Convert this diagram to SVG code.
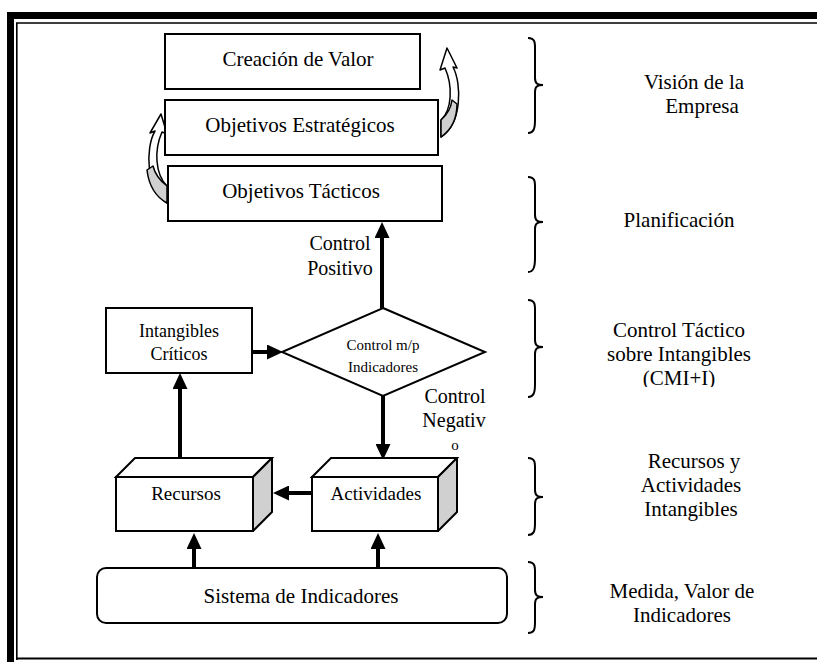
<svg xmlns="http://www.w3.org/2000/svg" width="817" height="662" viewBox="0 0 817 662">
<style>
.t{font-family:"Liberation Serif","Times New Roman",serif;fill:#000;text-anchor:middle}
.b{fill:#fff;stroke:#000;stroke-width:2}
.g{fill:#d0d0d0;stroke:#000;stroke-width:2;stroke-linejoin:round}
.c{stroke:#000;stroke-width:4;fill:none}
.ca{fill:#fff;stroke:#000;stroke-width:1.5;stroke-linejoin:round}
.br{fill:none;stroke:#000;stroke-width:2}
</style>
<defs>
<marker id="ah" markerUnits="userSpaceOnUse" viewBox="0 0 16 15" markerWidth="16" markerHeight="15" refX="2" refY="7.5" orient="auto">
<path d="M0,0 L16,7.5 L0,15 Z" fill="#000"/>
</marker>
<clipPath id="clipCMI"><rect x="560" y="300" width="240" height="87"/></clipPath>
</defs>
<rect width="817" height="662" fill="#fff"/>
<g id="frame">
<path d="M10.5,662 V15.5 H817" fill="none" stroke="#000" stroke-width="7"/>
<path d="M16.8,660 V23 H817" fill="none" stroke="#000" stroke-width="1.6"/>
<path d="M16,658.5 H817" fill="none" stroke="#000" stroke-width="2"/>
</g>
<g id="connectors">
<line class="c" x1="382" y1="308" x2="382" y2="236" marker-end="url(#ah)"/>
<line class="c" x1="252" y1="352" x2="269" y2="352" marker-end="url(#ah)"/>
<line class="c" x1="383" y1="396" x2="383" y2="446" marker-end="url(#ah)"/>
<line class="c" x1="312" y1="493" x2="287" y2="493" marker-end="url(#ah)"/>
<line class="c" x1="180" y1="458" x2="180" y2="387" marker-end="url(#ah)"/>
<line class="c" x1="194" y1="568" x2="194" y2="547" marker-end="url(#ah)"/>
<line class="c" x1="378" y1="568" x2="378" y2="547" marker-end="url(#ah)"/>
<g id="curved-right">
<path class="ca" d="M441,137 C462,124 462,84 453,67 L457,68 L447,48 L440,70 L445,68 C453,86 452,110 441,120 Z"/>
<path class="g" d="M441,120 C448,114 451,108 452,100 L457,104 C457,119 451,130 441,137 Z" style="stroke-width:1.5"/>
</g>
<g id="curved-left">
<path class="ca" d="M167,203 C146,190 145,148 155,131 L150,133 L161,114 L167,134 L162,132 C154,150 155,174 167,186 Z"/>
<path class="g" d="M167,186 C159,180 155,174 153,166 L147,170 C149,187 156,197 167,203 Z" style="stroke-width:1.5"/>
</g>
</g>
<g id="creacion-valor">
<rect class="b" x="165" y="34" width="255" height="55"/>
<text class="t" x="298" y="66" font-size="21">Creación de Valor</text>
</g>
<g id="objetivos-estrategicos">
<rect class="b" x="165" y="100" width="273" height="55"/>
<text class="t" x="300" y="132" font-size="21">Objetivos Estratégicos</text>
</g>
<g id="objetivos-tacticos">
<rect class="b" x="168" y="166" width="274" height="55"/>
<text class="t" x="301" y="198" font-size="21">Objetivos Tácticos</text>
</g>
<g id="control-positivo">
<text class="t" x="340" y="250" font-size="20">Control</text>
<text class="t" x="340" y="275" font-size="20">Positivo</text>
</g>
<g id="intangibles-criticos">
<rect class="b" x="106" y="308" width="146" height="65"/>
<text class="t" x="179" y="337" font-size="18">Intangibles</text>
<text class="t" x="179" y="360" font-size="18">Críticos</text>
</g>
<g id="control-mp">
<polygon class="b" points="383,308 485,352 383,396 282,352"/>
<text class="t" x="383" y="350" font-size="15">Control m/p</text>
<text class="t" x="383" y="372" font-size="15">Indicadores</text>
</g>
<g id="control-negativo">
<text class="t" x="455" y="403" font-size="20">Control</text>
<text class="t" x="454" y="427" font-size="20">Negativ</text>
<text class="t" x="455" y="450" font-size="15">o</text>
</g>
<g id="recursos">
<polygon class="b" points="116,477 135,458 272,458 253,477"/>
<polygon class="g" points="253,477 272,458 272,512 253,531"/>
<rect class="b" x="116" y="477" width="137" height="54"/>
<text class="t" x="186" y="500" font-size="19">Recursos</text>
</g>
<g id="actividades">
<polygon class="b" points="312,477 331,458 457,458 438,477"/>
<polygon class="g" points="438,477 457,458 457,512 438,531"/>
<rect class="b" x="312" y="477" width="126" height="54"/>
<text class="t" x="376" y="500" font-size="19">Actividades</text>
</g>
<g id="sistema-indicadores">
<rect class="b" x="97" y="568" width="410" height="55" rx="9"/>
<text class="t" x="301" y="603" font-size="21">Sistema de Indicadores</text>
</g>
<g id="braces">
<path class="br" d="M528,38 C536,38 535,44 535,52 L535,78 C535,84 538,85 543,85 C538,85 535,86 535,92 L535,120 C535,128 534,133 528,133"/>
<path class="br" d="M528,177 C536,177 535,183 535,191 L535,215 C535,221 538,222 543,222 C538,222 535,223 535,229 L535,258 C535,266 534,272 528,272"/>
<path class="br" d="M528,300 C536,300 535,306 535,314 L535,340 C535,346 538,347 543,347 C538,347 535,348 535,354 L535,384 C535,392 534,397 528,397"/>
<path class="br" d="M528,458 C536,458 535,464 535,472 L535,490 C535,496 538,497 543,497 C538,497 535,498 535,504 L535,523 C535,531 534,535 528,535"/>
<path class="br" d="M528,562 C536,562 535,568 535,576 L535,590 C535,596 538,597 543,597 C538,597 535,598 535,604 L535,622 C535,630 534,633 528,633"/>
</g>
<g id="label-vision">
<text class="t" x="694" y="89" font-size="21">Visión de la</text>
<text class="t" x="702" y="113" font-size="21">Empresa</text>
</g>
<g id="label-planificacion">
<text class="t" x="679" y="227" font-size="21">Planificación</text>
</g>
<g id="label-control-tactico" clip-path="url(#clipCMI)">
<text class="t" x="679" y="337" font-size="21">Control Táctico</text>
<text class="t" x="679" y="361" font-size="21">sobre Intangibles</text>
<text class="t" x="679" y="385" font-size="21">(CMI+I)</text>
</g>
<g id="label-recursos">
<text class="t" x="694" y="468" font-size="21">Recursos y</text>
<text class="t" x="691" y="492" font-size="21">Actividades</text>
<text class="t" x="691" y="516" font-size="21">Intangibles</text>
</g>
<g id="label-medida">
<text class="t" x="682" y="598" font-size="21">Medida, Valor de</text>
<text class="t" x="682" y="622" font-size="21">Indicadores</text>
</g>
</svg>
